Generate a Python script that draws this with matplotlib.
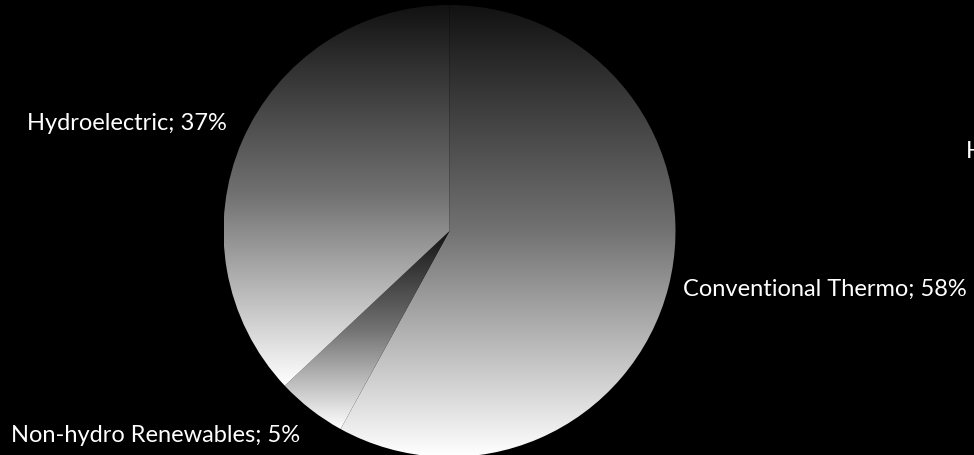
import numpy as np
import matplotlib.pyplot as plt
from matplotlib.colors import LinearSegmentedColormap

# данные диаграммы
sources = ["Conventional Thermo", "Non-hydro Renewables", "Hydroelectric"]
shares = [58, 5, 37]

# позиции подписей (в пикселях, ось y вверх)
label_pos = [(683, 166), (11, 19), (27, 332)]

W, H = 974, 455
fig = plt.figure(figsize=(W / 100, H / 100), dpi=100, facecolor="black")
ax = fig.add_axes([0, 0, 1, 1])
ax.set_facecolor("black")

wedges, _ = ax.pie(shares, startangle=90, counterclock=False,
                   center=(449.5, 224), radius=226,
                   wedgeprops=dict(facecolor="none", edgecolor="none"))
ax.axis("off")

# вертикальный градиент: тёмный сверху, светлый снизу
cmap = LinearSegmentedColormap.from_list(
    "grad", [(0, "#121212"), (0.5, "#727272"), (1, "#ffffff")])
grad = np.linspace(1, 0, 256).reshape(-1, 1)

for w in wedges:
    bb = w.get_path().get_extents(w.get_patch_transform())
    im = ax.imshow(grad, cmap=cmap, vmin=0, vmax=1, origin="lower",
                   extent=[bb.x0, bb.x1, bb.y0, bb.y1], aspect="auto",
                   interpolation="bilinear", zorder=1)
    im.set_clip_path(w)

ax.set_xlim(0, W)
ax.set_ylim(0, H)

for name, pct, (x, y) in zip(sources, shares, label_pos):
    ax.text(x, y, f"{name}; {pct}%", color="white", fontsize=17,
            family="Lato", ha="left", va="center", zorder=3)

# подпись у правого края, в оригинале тоже обрезана
ax.text(966, 304, "Hydroelectric", color="white", fontsize=17,
        family="Lato", ha="left", va="center", zorder=3)

fig.savefig("out.png", dpi=100, facecolor="black")
